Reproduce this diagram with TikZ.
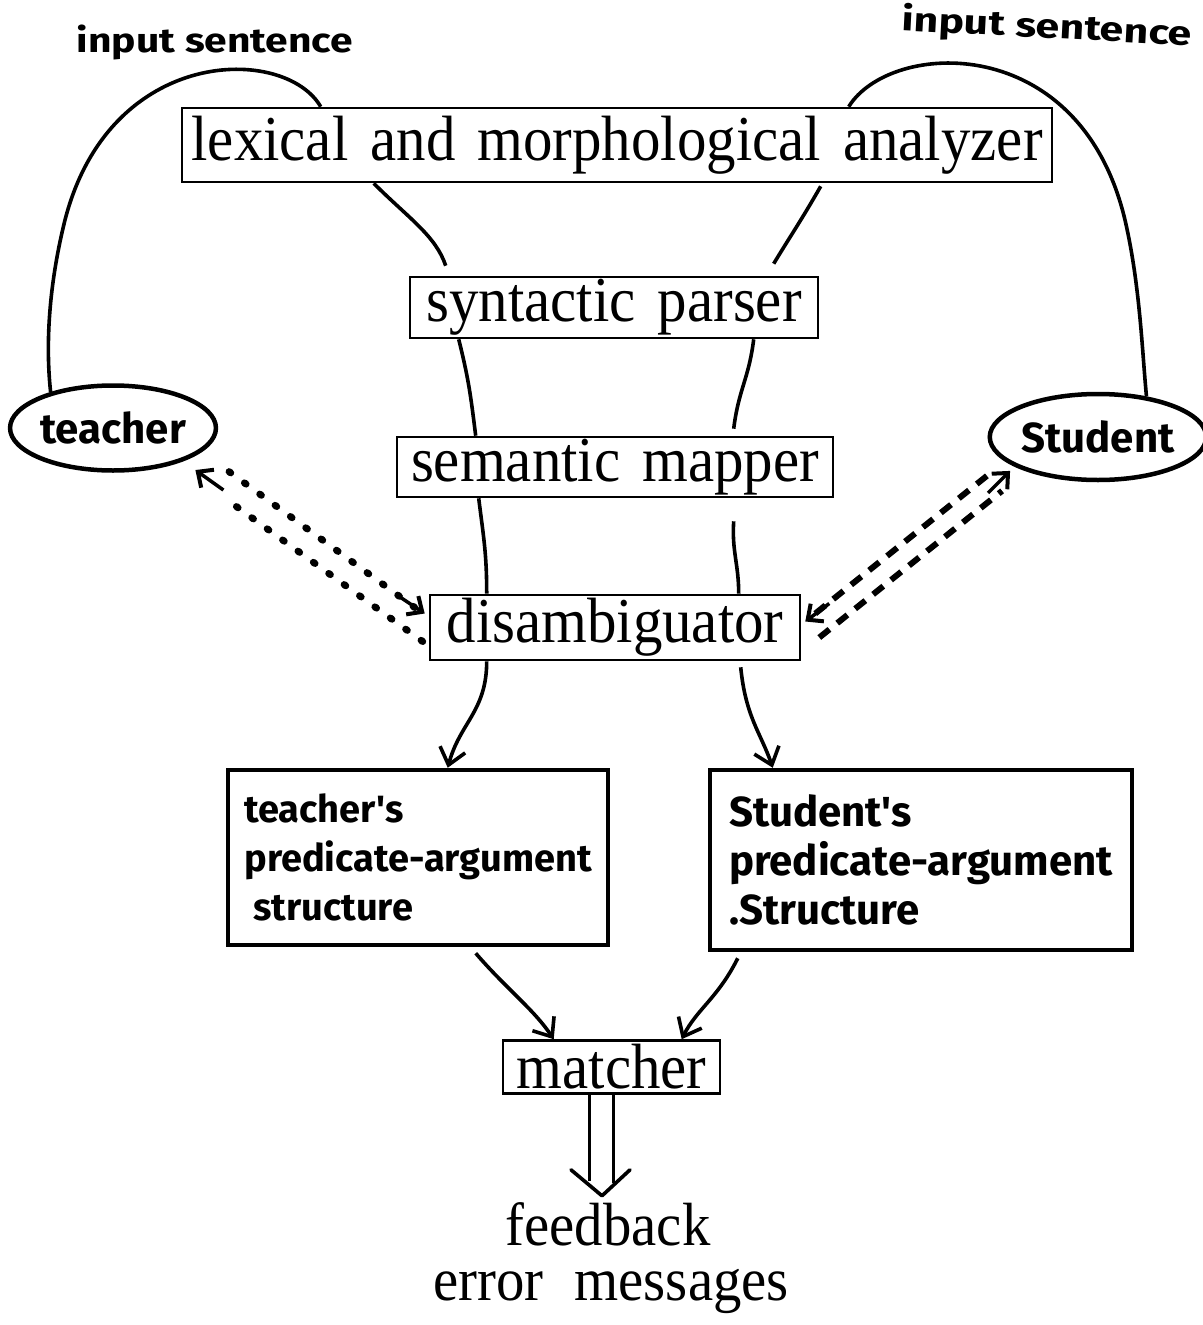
\documentclass[tikz,border=0pt]{standalone}
\usepackage{fontspec}
\setmainfont{Liberation Serif}
\newfontfamily\srf[FakeStretch=0.92,WordSpace=1.5]{Liberation Serif}
\newfontfamily\srfw[FakeStretch=0.93,WordSpace=2.2]{Liberation Serif}
\newfontfamily\hand{Fira Sans}
\usetikzlibrary{shapes.geometric,arrows.meta,calc}
\tikzset{
  stage/.style={draw, line width=2.6pt, inner sep=0pt, font=\srf\fontsize{64}{70}\selectfont},
  hbox/.style={draw, line width=4.5pt, inner sep=0pt, align=left, font=\hand\bfseries\fontsize{38}{49}\selectfont},
  person/.style={ellipse, draw, line width=4.5pt, inner sep=0pt, font=\hand\bfseries\fontsize{42}{48}\selectfont},
  wire/.style={line width=3.6pt},
  arr/.style={wire, -{Straight Barb[length=16pt,width=26pt,line width=3.6pt]}},
  dotl/.style={line width=7pt, line cap=round, dash pattern=on 2pt off 17pt},
  dashl/.style={line width=6pt, dash pattern=on 13pt off 10pt},
  dtip/.style={line width=3.5pt, -{Straight Barb[length=12pt,width=22pt,line width=4pt]}},
  lbl/.style={font=\hand\bfseries\fontsize{34}{40}\selectfont, inner sep=0pt},
  plain/.style={font=\srfw\fontsize{61}{66}\selectfont, inner sep=0pt},
}
\begin{document}
\begin{tikzpicture}[x=1pt,y=-1pt]
\useasboundingbox (0,0) rectangle (1202,1325);
% stages
\node[stage, minimum width=870, minimum height=74] (b1) at (617,145) {lexical and morphological analyzer};
\node[stage, minimum width=408, minimum height=61] (b2) at (614,307.5) {syntactic parser};
\node[stage, minimum width=436, minimum height=60] (b3) at (615,467) {semantic mapper};
\node[stage, minimum width=370, minimum height=65] (b4) at (615,627.5) {disambiguator};
\node[stage, minimum width=217, minimum height=53] (m) at (611.5,1067) {matcher};
% people
\node[person, minimum width=200, minimum height=85] (teacher) at (113,428) {teacher};
\node[person, minimum width=196, minimum height=86] (student) at (1098,437) {Student};
% structures
\node[hbox, minimum width=380, minimum height=175] (tp) at (418,857.5) {teacher's\\predicate-argument\\\ structure};
\node[hbox, minimum width=422, minimum height=180, font=\hand\bfseries\fontsize{42}{49}\selectfont] (sp) at (921,860) {Student's\\predicate-argument\\.Structure};
% labels
\node[lbl] (in1) at (215,42) {\scalebox{1.2}[1]{input sentence}};
\node[lbl, rotate=-3] (in2) at (1047,28) {\scalebox{1.26}[1]{input sentence}};
\node[plain, anchor=base] (fb) at (608,1245) {feedback};
\node[plain, anchor=base] (em) at (611,1300) {error messages};
% loops
\draw[wire] ($(b1.north west)+(140,0)$) .. controls (285,45) and (110,45) .. (65,220)
  .. controls (50,280) and (45,340) .. (teacher.150);
\draw[wire] ($(b1.north west)+(668,0)$) .. controls (890,40) and (1080,30) .. (1125,220)
  .. controls (1140,285) and (1142,350) .. (student.40);
% pipeline wires
\draw[wire] ($(b1.south west)+(193,0)$) .. controls +(35,35) and +(-10,-30) .. ($(b2.north west)+(37,-10)$);
\draw[wire] ($(b1.south west)+(640,3)$) .. controls +(-20,35) and +(15,-25) .. ($(b2.north west)+(365,-12)$);
\draw[wire] ($(b2.south west)+(50,0)$) .. controls +(10,40) and +(-5,-40) .. ($(b3.north west)+(80,0)$);
\draw[wire] ($(b2.south west)+(345,0)$) .. controls +(-5,40) and +(5,-40) .. ($(b3.north west)+(338,-7)$);
\draw[wire] ($(b3.south west)+(83,0)$) .. controls +(5,40) and +(0,-40) .. ($(b4.north west)+(58,0)$);
\coordinate (r3) at ($(b3.south west)+(338,23)$);
\draw[wire] (r3) .. controls +(-2,30) and +(0,-30) .. ($(b4.north west)+(310,0)$);
\draw[arr] ($(b4.south west)+(58,0)$) .. controls +(0,50) and +(12,-45) .. ($(tp.north west)+(222,0)$);
\draw[arr] ($(b4.south west)+(312,6)$) .. controls +(5,50) and +(-12,-35) .. ($(sp.north west)+(65,0)$);
\draw[arr] ($(tp.south west)+(250,6)$) .. controls +(30,35) and +(-20,-30) .. ($(m.north west)+(52,0)$);
\draw[arr] ($(sp.south west)+(30,6)$) .. controls +(-20,40) and +(15,-30) .. ($(m.north west)+(180,0)$);
% dotted links to teacher
\coordinate (tT) at ($(teacher.-30)+(20,6)$);
\draw[dotl] ($(b4.west)+(-14,-20)$) -- ($(teacher.-30)+(46,2)$);
\draw[dtip] ($(b4.west)+(-28,-30)$) -- ($(b4.west)+(-4,-14)$);
\draw[dotl] ($(b4.west)+(-6,14)$) -- ($(teacher.-30)+(52,36)$);
\draw[dtip] ($(tT)+(28,20)$) -- (tT);
% dashed links to student
\coordinate (tS) at ($(student.-150)+(-24,-3)$);
\draw[dashl] ($(b4.east)+(14,-14)$) -- ($(student.-150)+(-46,1)$);
\draw[dtip] ($(b4.east)+(28,-24)$) -- ($(b4.east)+(4,-6)$);
\draw[dashl] ($(b4.east)+(18,10)$) -- ($(student.-150)+(-32,17)$);
\draw[dtip] ($(tS)+(-22,22)$) -- (tS);
% double output arrow
\coordinate (tip) at ($(m.south)+(-9.5,101)$);
\draw[wire] ($(m.south)+(-22,0)$) -- ($(m.south)+(-22,86)$);
\draw[wire] ($(m.south)+(2,0)$) -- ($(m.south)+(2,88)$);
\draw[wire, line join=round, line cap=round] ($(tip)+(-31,-26)$) -- (tip) -- ($(tip)+(28,-26)$);
\end{tikzpicture}
\end{document}
